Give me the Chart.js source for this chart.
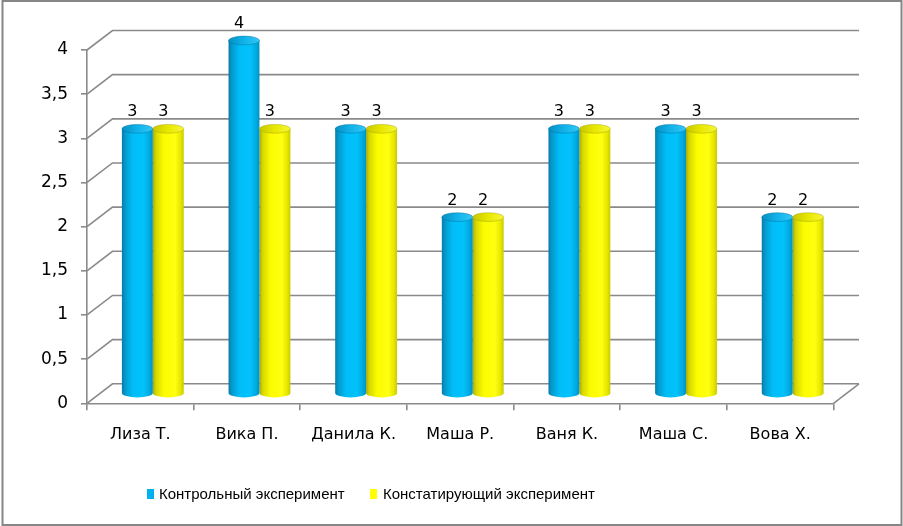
<!DOCTYPE html>
<html><head><meta charset="utf-8">
<script src="https://cdn.jsdelivr.net/npm/chart.js@4/dist/chart.umd.min.js"></script>
<style>html,body{margin:0;padding:0;background:#fff}canvas{display:block}</style>
</head><body>
<canvas id="c" width="903" height="526"></canvas>
<script>
const categories = ['Лиза Т.','Вика П.','Данила К.','Маша Р.','Ваня К.','Маша С.','Вова Х.'];
const controlValues = [3,4,3,2,3,3,2];
const statingValues = [3,3,3,2,3,3,2];
const seriesNames = ['Контрольный эксперимент','Констатирующий эксперимент'];
const yTicks = [0,0.5,1,1.5,2,2.5,3,3.5,4];

const DX = 25.5, DY = -19.5;   // back wall offset
const BX = 12.5, BY = -9.5;    // bars sit mid-depth
const GRID = '#8a8a8a';

const blueStops = [[0,'#0a7aa6'],[0.1,'#0398cc'],[0.35,'#00bdf7'],[0.7,'#02c2fb'],[0.9,'#00a8de'],[1,'#0092c2']];
const yellowStops = [[0,'#a9a900'],[0.1,'#d6d600'],[0.35,'#fbfb00'],[0.72,'#ffff10'],[0.9,'#e6e600'],[1,'#c9c900']];
const blueCap = [[0,'#0590c2'],[0.5,'#10b2ea'],[1,'#32c8f6']];
const yellowCap = [[0,'#c8c800'],[0.5,'#e8e800'],[1,'#f6f63a']];

function grad(stops){
  return function(context){
    const chart = context.chart;
    const meta = chart.getDatasetMeta(context.datasetIndex);
    const el = meta.data[context.dataIndex];
    if(!el || !isFinite(el.x) || !isFinite(el.width)) return stops[2][1];
    const x0 = el.x - el.width/2;
    const g = chart.ctx.createLinearGradient(x0,0,x0+el.width,0);
    stops.forEach(s=>g.addColorStop(s[0],s[1]));
    return g;
  };
}

const depthPlugin = {
  id:'depth',
  beforeDraw(chart){
    const ctx = chart.ctx, ys = chart.scales.y;
    const L = chart.chartArea.left, R = chart.chartArea.right;
    ctx.save();
    ctx.strokeStyle = '#868686'; ctx.lineWidth = 2;
    ctx.strokeRect(2.5,1,899,524);
    ctx.strokeStyle = GRID; ctx.lineWidth = 1.6;
    yTicks.forEach(v=>{
      const py = ys.getPixelForValue(v);
      ctx.beginPath(); ctx.moveTo(L,py); ctx.lineTo(L+DX,py+DY); ctx.lineTo(R+DX,py+DY); ctx.stroke();
    });
    const p0 = ys.getPixelForValue(0);
    ctx.beginPath(); ctx.moveTo(R,p0); ctx.lineTo(R+DX,p0+DY); ctx.stroke();
    ctx.restore();
  },
  beforeDatasetsDraw(chart){ chart.ctx.save(); chart.ctx.translate(BX,BY); },
  afterDatasetsDraw(chart){
    const ctx = chart.ctx;
    chart.data.datasets.forEach((ds,di)=>{
      const meta = chart.getDatasetMeta(di);
      const capStops = di===0 ? blueCap : yellowCap;
      meta.data.forEach((el,i)=>{
        const rx = el.width/2, ry = 4.4;
        ctx.fillStyle = el.options.backgroundColor;
        ctx.beginPath(); ctx.ellipse(el.x, el.base, rx, ry, 0, 0, Math.PI); ctx.fill();
        const g = ctx.createLinearGradient(el.x-rx,0,el.x+rx,0);
        capStops.forEach(s=>g.addColorStop(s[0],s[1]));
        ctx.fillStyle = g;
        ctx.beginPath(); ctx.ellipse(el.x, el.y, rx, ry, 0, 0, Math.PI*2); ctx.fill();
        ctx.strokeStyle = di===0 ? 'rgba(0,110,160,0.55)' : 'rgba(160,160,0,0.55)';
        ctx.lineWidth = 0.8; ctx.stroke();
        ctx.fillStyle = '#000';
        ctx.font = '16px "DejaVu Sans"';
        ctx.textAlign = 'center'; ctx.textBaseline = 'alphabetic';
        ctx.fillText(String(ds.data[i]), el.x - 5, el.y - 12.5);
      });
    });
    ctx.restore();
  },
  afterDraw(chart){
    const ctx = chart.ctx;
    ctx.save();
    ctx.font = '15px "Liberation Sans"';
    ctx.textBaseline = 'middle'; ctx.textAlign = 'left';
    const items = [[147,159],[370,383]];
    chart.data.datasets.forEach((ds,di)=>{
      ctx.fillStyle = di===0 ? '#00b0f0' : '#ffff00';
      ctx.fillRect(items[di][0],489,7,10);
      ctx.fillStyle = '#000';
      ctx.fillText(ds.label, items[di][1], 494.5);
    });
    ctx.restore();
  }
};

const chart = new Chart(document.getElementById('c'), {
  type:'bar',
  data:{
    labels: categories,
    datasets:[
      {label: seriesNames[0], data: controlValues, backgroundColor: grad(blueStops), borderWidth:0, clip:false},
      {label: seriesNames[1], data: statingValues, backgroundColor: grad(yellowStops), borderWidth:0, clip:false}
    ]
  },
  options:{
    responsive:false, animation:false, devicePixelRatio:1,
    layout:{padding:{top:50,left:0,right:69.5,bottom:0}},
    datasets:{bar:{categoryPercentage:0.58, barPercentage:1.0}},
    plugins:{legend:{display:false}, tooltip:{enabled:false}},
    scales:{
      x:{
        afterFit(s){ s.height = 122.7; },
        border:{display:true,color:GRID,width:1.6},
        grid:{offset:true, drawOnChartArea:false, tickLength:7, color:GRID, lineWidth:1.6},
        ticks:{color:'#000', font:{family:'"DejaVu Sans"', size:16}, padding:15, maxRotation:0}
      },
      y:{
        min:0, max:4,
        afterFit(s){ s.width = 87; },
        border:{display:true,color:GRID,width:1.6},
        grid:{drawOnChartArea:false, tickLength:6, color:GRID, lineWidth:1.6},
        ticks:{stepSize:0.5, color:'#000', font:{family:'"DejaVu Sans"', size:17}, padding:13,
          callback:(v)=>String(v).replace('.',',')}
      }
    }
  },
  plugins:[depthPlugin]
});
chart.update();
</script>
</body></html>
